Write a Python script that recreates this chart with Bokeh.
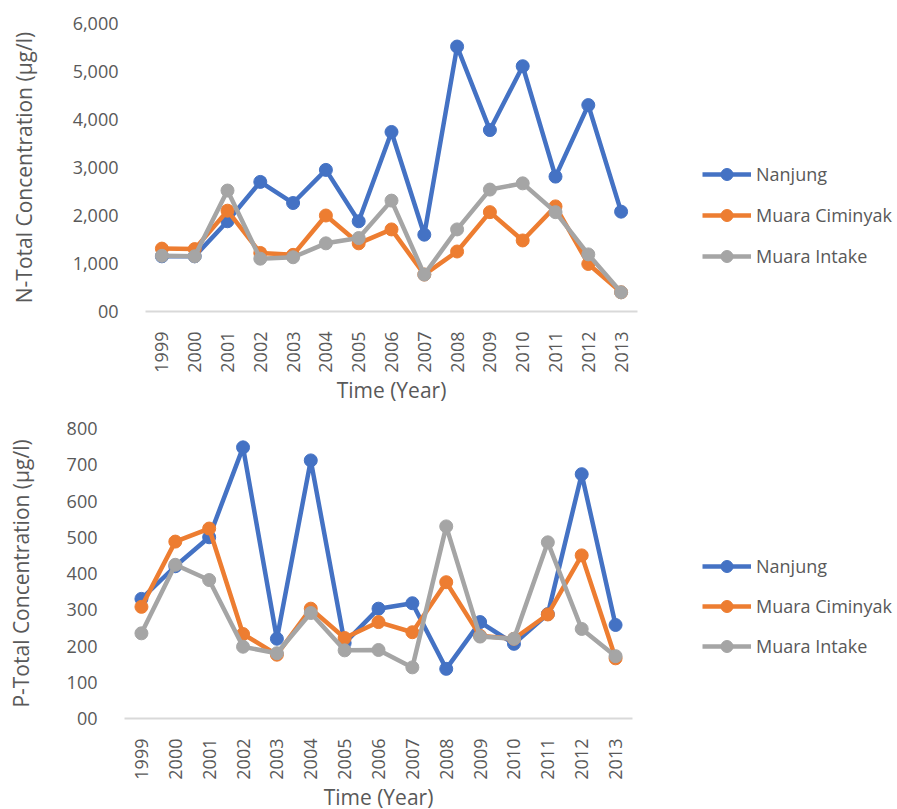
import math
from bokeh.plotting import figure
from bokeh.models import FactorRange, FixedTicker, Legend, LegendItem, Range1d
from bokeh.layouts import column, row
from bokeh.embed import file_html
from bokeh.resources import INLINE

years = [str(y) for y in range(1999, 2014)]
series_names = ["Nanjung", "Muara Ciminyak", "Muara Intake"]
colors = ["#4472C4", "#ED7D31", "#A5A5A5"]

# N-Total concentration (ug/l)
n_nanjung = [1150, 1150, 1880, 2700, 2260, 2950, 1880, 3740, 1600, 5520, 3780, 5110, 2810, 4300, 2080]
n_ciminyak = [1310, 1300, 2100, 1220, 1180, 2000, 1420, 1710, 770, 1250, 2070, 1480, 2190, 990, 400]
n_intake = [1160, 1150, 2520, 1100, 1130, 1420, 1530, 2310, 770, 1710, 2540, 2670, 2070, 1190, 400]

# P-Total concentration (ug/l)
p_nanjung = [330, 420, 500, 748, 220, 712, 208, 303, 318, 137, 266, 206, 288, 674, 258]
p_ciminyak = [308, 488, 524, 233, 176, 303, 222, 266, 238, 376, 228, 220, 287, 450, 166]
p_intake = [235, 424, 382, 198, 180, 291, 188, 189, 141, 530, 226, 220, 486, 247, 172]

n_ticks = [0, 1000, 2000, 3000, 4000, 5000, 6000]
n_tick_labels = ["00", "1,000", "2,000", "3,000", "4,000", "5,000", "6,000"]
p_ticks = [0, 100, 200, 300, 400, 500, 600, 700, 800]
p_tick_labels = ["00", "100", "200", "300", "400", "500", "600", "700", "800"]

FONT = "Open Sans"
TXT = "#595959"


def make_chart(series, ticks, tick_labels, ylabel, frame_w, frame_h, mb_left,
               mb_right, mb_top, mb_bottom, y_title_standoff, x_title_standoff,
               legend_loc, legend_spacing):
    p = figure(frame_width=frame_w, frame_height=frame_h,
               x_range=FactorRange(*years),
               y_range=Range1d(ticks[0], ticks[-1]),
               output_backend="svg", toolbar_location=None,
               min_border_left=mb_left, min_border_right=mb_right,
               min_border_top=mb_top, min_border_bottom=mb_bottom)
    p.outline_line_color = None
    p.grid.visible = False

    items = []
    for name, vals, col in zip(series_names, series, colors):
        r1 = p.line(years, vals, line_color=col, line_width=4.5, line_join="round")
        r2 = p.scatter(years, vals, marker="circle", size=13, fill_color=col, line_color=col)
        items.append(LegendItem(label=name, renderers=[r1, r2]))

    # y axis
    ya = p.yaxis[0]
    ya.ticker = FixedTicker(ticks=ticks)
    ya.major_label_overrides = {t: l for t, l in zip(ticks, tick_labels)}
    ya.axis_line_color = None
    ya.major_tick_line_color = None
    ya.minor_tick_line_color = None
    ya.major_label_standoff = 21
    ya.major_label_text_font = FONT
    ya.major_label_text_font_size = "18px"
    ya.major_label_text_color = TXT
    ya.axis_label = ylabel
    ya.axis_label_text_font = FONT
    ya.axis_label_text_font_size = "21px"
    ya.axis_label_text_font_style = "normal"
    ya.axis_label_text_color = TXT
    ya.axis_label_text_line_height = 1.0
    ya.axis_label_standoff = y_title_standoff

    # x axis
    xa = p.xaxis[0]
    xa.axis_line_color = "#D9D9D9"
    xa.axis_line_width = 2
    xa.major_tick_line_color = None
    xa.minor_tick_line_color = None
    xa.major_label_orientation = math.pi / 2
    xa.major_label_standoff = 14
    xa.major_label_text_font = FONT
    xa.major_label_text_font_size = "18px"
    xa.major_label_text_color = TXT
    xa.axis_label = "Time (Year)"
    xa.axis_label_text_font = FONT
    xa.axis_label_text_font_size = "21px"
    xa.axis_label_text_font_style = "normal"
    xa.axis_label_text_color = TXT
    xa.axis_label_text_line_height = 0.9
    xa.axis_label_standoff = x_title_standoff

    legend = Legend(items=items, location=legend_loc, padding=0, margin=0,
                    border_line_color=None, background_fill_alpha=0,
                    glyph_width=49, glyph_height=30, label_height=30,
                    label_standoff=5, spacing=legend_spacing,
                    label_text_font=FONT, label_text_font_size="18px",
                    label_text_color=TXT)
    p.add_layout(legend, "right")
    return p


p1 = make_chart([n_nanjung, n_ciminyak, n_intake], n_ticks, n_tick_labels,
                "N-Total Concentration (µg/l)", 492, 288, 145, 260, 23, 88, 32, 0,
                (65, 40), 11)
p2 = make_chart([p_nanjung, p_ciminyak, p_intake], p_ticks, p_tick_labels,
                "P-Total Concentration (µg/l)", 508, 290, 124, 265, 22, 80, 29, 0,
                (70, 57), 10)

layout = column(row(p1), row(p2), spacing=0)
open("out.html", "w").write(file_html(layout, INLINE))
